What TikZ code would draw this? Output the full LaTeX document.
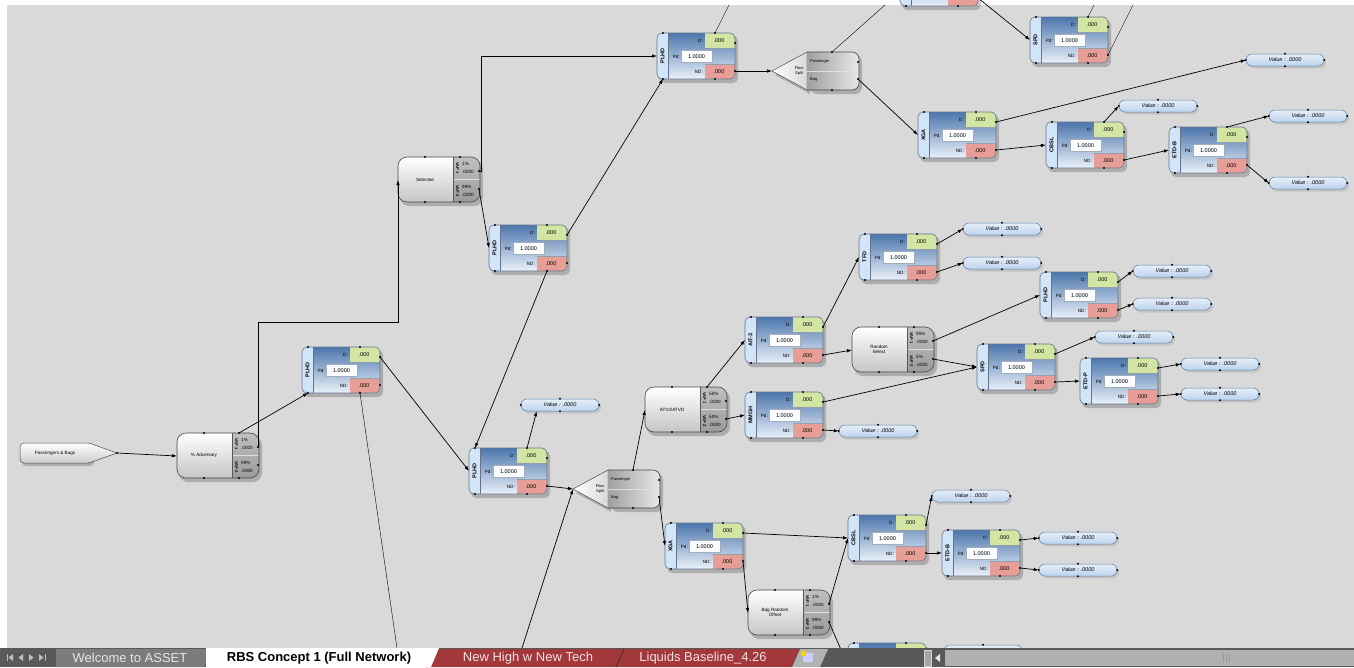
\documentclass[tikz,border=0pt]{standalone}
\usepackage{fontspec}
\setmainfont{Liberation Sans}
\usetikzlibrary{shapes.misc,arrows.meta,shadows}

\definecolor{canvas}{HTML}{D9D9D9}
\definecolor{detdark}{HTML}{4C76AC}
\definecolor{detpale}{HTML}{EAF1FA}
\definecolor{strip}{HTML}{D2E5F8}
\definecolor{dgreen}{HTML}{D3E5A2}
\definecolor{ndred}{HTML}{E79E97}
\definecolor{edge}{HTML}{66768A}
\definecolor{valtop}{HTML}{E6EFF9}
\definecolor{valfill}{HTML}{BCD3EC}
\definecolor{valedge}{HTML}{5D7EA6}
\definecolor{tabred}{HTML}{A3383B}
\definecolor{tabgray}{HTML}{7C7C7C}
\definecolor{barbg}{HTML}{595959}

\tikzset{
  lbl/.style={inner sep=0pt,font=\fontsize{4.6}{5}\selectfont},
  num/.style={inner sep=0pt,font=\fontsize{5.5}{6}\selectfont},
  link/.style={line width=.7pt,-{Latex[length=5pt,width=3.5pt]}},
  boxshadow/.style={fill=black,opacity=.2},
  valcap/.style={rounded rectangle,draw=valedge,line width=.5pt,
    top color=valtop,bottom color=valfill,minimum width=78pt,minimum height=12pt,
    inner sep=0pt,font=\fontsize{5.5}{6}\selectfont\itshape,
    drop shadow={opacity=.22,shadow xshift=2pt,shadow yshift=-2.5pt}},
  tabtext/.style={inner sep=0pt,font=\fontsize{13}{14}\selectfont},
}

% detector frame only: name, x, y
\newcommand{\detframe}[3]{%
  \begin{scope}[shift={(#2,#3)}]
    \fill[boxshadow,rounded corners=5pt] (2,3) rectangle (81,50);
    \begin{scope}
      \clip[rounded corners=5pt] (0,0) rectangle (78,46);
      \fill[strip] (0,0) rectangle (11,46);
      \shade[top color=detdark,bottom color=detpale] (11,0) rectangle (78,46);
      \fill[dgreen] (48,0) rectangle (78,15);
      \fill[ndred] (48,31) rectangle (78,46);
      \fill[white!80!detpale] (24,17.5) rectangle (55,29);
      \draw[edge!60,line width=.4pt] (24,17.5) rectangle (55,29);
      \draw[edge!70,line width=.4pt] (48,15) -- (78,15) (48,31) -- (78,31);
      \draw[edge,line width=.5pt] (11,0) -- (11,46);
    \end{scope}
    \node[draw=edge,line width=.6pt,rounded corners=5pt,minimum width=78pt,
      minimum height=46pt,inner sep=0pt] (#1) at (39,23) {};
    \coordinate (#1-tl) at (6,0);
    \coordinate (#1-bl) at (6,46);
    \coordinate (#1-l) at (0,23);
    \coordinate (#1-dt) at (58,0);
    \coordinate (#1-d) at (78,10);
    \coordinate (#1-nd) at (78,38);
    \coordinate (#1-ndb) at (58,46);
    \foreach \p in {tl,bl,dt,d,nd,ndb} {\fill (#1-\p) circle (1.2pt);}
  \end{scope}}

% detector with its read-outs: name, x, y, label
\newcommand{\detector}[4]{%
  \detframe{#1}{#2}{#3}
  \begin{scope}[shift={(#2,#3)}]
    \node[lbl,anchor=east] at (46,8) {D:};
    \node[num] at (62,8) {.000};
    \node[lbl,anchor=east] at (23,23.5) {Pd:};
    \node[num] at (39.5,23.5) {1.0000};
    \node[lbl,anchor=east] at (46,39) {ND:};
    \node[num] at (62,39) {.000};
    \node[inner sep=0pt,font=\fontsize{5.5}{6}\selectfont\bfseries,rotate=90] at (5.5,23) {#4};
  \end{scope}}

% two way split: name, x, y, text, first share, second share
\newcommand{\vapnode}[6]{%
  \begin{scope}[shift={(#2,#3)}]
    \fill[boxshadow,rounded corners=9pt] (2,3) rectangle (85,49);
    \begin{scope}
      \clip[rounded corners=9pt] (0,0) rectangle (82,45);
      \shade[top color=white,bottom color=gray!45] (0,0) rectangle (55,45);
      \shade[top color=gray!50,bottom color=gray!78] (55,0) rectangle (82,45);
      \draw[gray!25,line width=.7pt] (55,22.5) -- (82,22.5);
      \draw[gray!70!black,line width=.4pt] (55,0) -- (55,45);
    \end{scope}
    \node[draw=gray!55!black,line width=.6pt,rounded corners=9pt,minimum width=82pt,
      minimum height=45pt,inner sep=0pt] (#1) at (41,22.5) {};
    \node[lbl,align=center] at (27,22.5) {#4};
    \node[inner sep=0pt,font=\fontsize{4}{4}\selectfont\bfseries,rotate=-90] at (59.5,11) {VAP 1};
    \node[inner sep=0pt,font=\fontsize{4}{4}\selectfont\bfseries,rotate=-90] at (59.5,34) {VAP 2};
    \node[lbl,anchor=west] at (64,7) {#5};
    \node[lbl,anchor=west] at (64,15) {.0000};
    \node[lbl,anchor=west] at (64,30) {#6};
    \node[lbl,anchor=west] at (64,38) {.0000};
    \coordinate (#1-t) at (27,0);
    \coordinate (#1-t2) at (62,0);
    \coordinate (#1-b) at (27,45);
    \coordinate (#1-b2) at (62,45);
    \coordinate (#1-l) at (0,23);
    \coordinate (#1-r1) at (81,14);
    \coordinate (#1-r2) at (81,32);
    \foreach \p in {t,t2,b,b2,r1,r2} {\fill (#1-\p) circle (1.2pt);}
  \end{scope}}

% passenger / bag flow split: name, x, y of the box
\newcommand{\flowsplit}[3]{%
  \begin{scope}[shift={(#2,#3)}]
    \fill[boxshadow] (-32,23) -- (3,4) -- (3,42) -- cycle;
    \fill[boxshadow,rounded corners=7pt] (3,3) rectangle (55,42);
    \shadedraw[left color=white,right color=gray!30,draw=gray!60!black,line width=.5pt]
      (-35,19) -- (0,0) -- (0,38) -- cycle;
    \begin{scope}
      \clip[rounded corners=7pt] (-10,0) rectangle (52,38);
      \shade[left color=gray!75,right color=gray!18] (0,0) rectangle (52,38);
      \draw[gray!25,line width=.7pt] (0,19) -- (52,19);
    \end{scope}
    \draw[gray!55!black,line width=.6pt,rounded corners=7pt] (0,0) -- (52,0) -- (52,38) -- (0,38);
    \node[minimum width=52pt,minimum height=38pt,inner sep=0pt] (#1) at (26,19) {};
    \node[inner sep=0pt,font=\fontsize{4}{4}\selectfont,anchor=west] at (3,10) {Passenger};
    \node[inner sep=0pt,font=\fontsize{4}{4}\selectfont,anchor=west] at (3,28) {Bag};
    \node[inner sep=0pt,font=\fontsize{4}{4.5}\selectfont,align=center] at (-8,19) {Flow\\Split};
    \coordinate (#1-tip) at (-35,19);
    \coordinate (#1-t) at (25,0);
    \coordinate (#1-b) at (25,38);
    \coordinate (#1-r1) at (51,10);
    \coordinate (#1-r2) at (51,27);
    \foreach \p in {t,b,r1,r2} {\fill (#1-\p) circle (1.2pt);}
  \end{scope}}

% value read-out: name, x, y, text
\newcommand{\valnode}[4]{%
  \node[valcap] (#1) at (#2,#3) {#4};
  \foreach \a in {north,south,west,east} {\fill (#1.\a) circle (1.2pt);}}

\begin{document}
\begin{tikzpicture}[x=1pt,y=-1pt]
  \useasboundingbox (0,0) rectangle (1354,667);
  \fill[white] (0,0) rectangle (1354,667);
  \fill[canvas] (7,5) rectangle (1354,648);

  \begin{scope}
    \clip (7,0) rectangle (1354,648);

    % source
    \fill[boxshadow,rounded corners=4pt] (22,446) rectangle (94,466);
    \shadedraw[top color=white,bottom color=gray!40,draw=gray!60!black,line width=.5pt,
      rounded corners=4pt] (20,443) rectangle (92,463);
    \shade[top color=white,bottom color=gray!40] (89,443) -- (117,453) -- (89,463) -- cycle;
    \draw[gray!60!black,line width=.5pt] (89,443) -- (117,453) -- (89,463);
    \node[lbl] (src) at (55,453) {Passengers \& Bags};
    \coordinate (src-tip) at (117,453);
    \fill (src-tip) circle (1.2pt);

    % splits
    \vapnode{adv}{177}{433}{\% Adversary}{1\%}{99\%}
    \vapnode{sel}{398}{157}{Selectee}{1\%}{99\%}
    \vapnode{atv}{645}{387}{ATV3/ATVD}{50\%}{50\%}
    \vapnode{rsel}{852}{327}{Random\\Select}{95\%}{5\%}
    \vapnode{bagr}{748}{590}{Bag Random\\Offset}{1\%}{99\%}
    \flowsplit{fsT}{807}{52}
    \flowsplit{fsB}{608}{470}

    % detectors
    \detector{plhdA}{302}{347}{PLHD}
    \detector{plhdB}{489}{225}{PLHD}
    \detector{plhdC}{657}{33}{PLHD}
    \detector{plhdD}{469}{448}{PLHD}
    \detector{xgaT}{918}{112}{XGA}
    \detector{cbslT}{1046}{122}{CBSL}
    \detector{etdbT}{1169}{127}{ETD-B}
    \detector{spdT}{1030}{17}{SPD}
    \detframe{topcut}{900}{-40}
    \detector{tfd}{859}{234}{TFD}
    \detector{plhdE}{1040}{272}{PLHD}
    \detector{spdM}{977}{344}{SPD}
    \detector{etdp}{1080}{358}{ETD-P}
    \detector{ait}{745}{317}{AIT-3}
    \detector{mmgh}{745}{392}{MMGH}
    \detector{xgaB}{665}{523}{XGA}
    \detector{cbslB}{848}{515}{CBSL}
    \detector{etdbB}{942}{530}{ETD-B}
    \detframe{botcut}{848}{643}

    % read-outs
    \valnode{va}{1285}{60}{Value : .0000}
    \valnode{vb}{1158}{106}{Value : .0000}
    \valnode{vc}{1308}{116}{Value : .0000}
    \valnode{vd}{1308}{183}{Value : .0000}
    \valnode{ve}{1002}{229}{Value : .0000}
    \valnode{vf}{1002}{263}{Value : .0000}
    \valnode{vg}{1172}{271}{Value : .0000}
    \valnode{vh}{1172}{304}{Value : .0000}
    \valnode{vi}{1134}{337}{Value : .0000}
    \valnode{vj}{1220}{364}{Value : .0000}
    \valnode{vk}{1220}{394}{Value : .0000}
    \valnode{vl}{878}{431}{Value : .0000}
    \valnode{vm}{560}{405}{Value : .0000}
    \valnode{vn}{971}{496}{Value : .0000}
    \valnode{vo}{1078}{538}{Value : .0000}
    \valnode{vp}{1078}{570}{Value : .0000}
    \valnode{vq}{983}{651}{}

    % ends leaving the sheet
    \coordinate (offA) at (729,5);
    \coordinate (offB) at (885,5);
    \coordinate (offC) at (1133,5);
    \coordinate (offD) at (1094,5);
    \coordinate (offE) at (397,648);
    \coordinate (offF) at (522,648);

    % connections
    \draw[link] (src-tip) -- (adv-l);
    \draw[link] (adv-t2) -- (plhdA-bl);
    \draw[link] (adv-r1) -- ++(0,-125) -| (sel-l);
    \draw[link] (plhdA-d) -- (plhdD-l);
    \draw (plhdA-ndb) -- (offE);
    \draw[link] (offF) -- (fsB-tip);
    \draw[link] (plhdD-nd) -- (fsB-tip);
    \draw[link] (plhdD-dt) -- (vm.195);
    \draw[link] (plhdB-ndb) -- (plhdD-tl);
    \draw[link] (plhdB-d) -- (plhdC-bl);
    \draw[link] (sel-r2) -- (plhdB-l);
    \draw[link] (sel-r1) -- ++(2,0) |- (plhdC-l);
    \draw (plhdC-dt) -- (offA);
    \draw[link] (plhdC-nd) -- (fsT-tip);
    \draw (fsT-t) -- (offB);
    \draw[link] (fsT-r2) -- (xgaT-l);
    \draw[link] (topcut-nd) -- (spdT-l);
    \draw (spdT-nd) -- (offC);
    \draw (spdT-dt) -- (offD);
    \draw[link] (xgaT-d) -- (va.west);
    \draw[link] (xgaT-nd) -- (cbslT-l);
    \draw[link] (cbslT-dt) -- (vb.west);
    \draw[link] (cbslT-nd) -- (etdbT-l);
    \draw[link] (etdbT-dt) -- (vc.west);
    \draw[link] (etdbT-nd) -- (vd.west);
    \draw[link] (fsB-t) -- (atv-l);
    \draw[link] (fsB-r2) -- (xgaB-l);
    \draw[link] (atv-t2) -- (ait-l);
    \draw[link] (atv-r2) -- (mmgh-l);
    \draw[link] (ait-d) -- (tfd-l);
    \draw[link] (ait-nd) -- (rsel-l);
    \draw[link] (mmgh-d) -- (spdM-l);
    \draw[link] (mmgh-nd) -- (vl.west);
    \draw[link] (rsel-r1) -- (plhdE-l);
    \draw[link] (rsel-r2) -- (spdM-l);
    \draw[link] (tfd-d) -- (ve.west);
    \draw[link] (tfd-nd) -- (vf.west);
    \draw[link] (plhdE-d) -- (vg.west);
    \draw[link] (plhdE-nd) -- (vh.west);
    \draw[link] (spdM-d) -- (vi.west);
    \draw[link] (spdM-nd) -- (etdp-l);
    \draw[link] (etdp-d) -- (vj.west);
    \draw[link] (etdp-nd) -- (vk.west);
    \draw[link] (xgaB-d) -- (cbslB-l);
    \draw[link] (xgaB-nd) -- (bagr-l);
    \draw[link] (bagr-r1) -- (cbslB-l);
    \draw[link] (bagr-r2) -- (botcut-l);
    \draw[link] (cbslB-d) -- (vn.west);
    \draw[link] (cbslB-nd) -- (etdbB-l);
    \draw[link] (etdbB-d) -- (vo.west);
    \draw[link] (etdbB-nd) -- (vp.west);
  \end{scope}

  % sheet tabs
  \fill[barbg] (0,648) rectangle (1354,667);
  \draw[gray!50,line width=.8pt] (7,654) -- (7,661) (45,654) -- (45,661);
  \fill[gray!50] (13,654) -- (8.5,657.5) -- (13,661) -- cycle;
  \fill[gray!50] (23,654) -- (18.5,657.5) -- (23,661) -- cycle;
  \fill[gray!50] (29,654) -- (33.5,657.5) -- (29,661) -- cycle;
  \fill[gray!50] (39,654) -- (43.5,657.5) -- (39,661) -- cycle;
  \fill[tabgray] (56,649) -- (211,649) -- (204,667) -- (56,667) -- cycle;
  \node[tabtext,text=gray!20] (tabWelcome) at (130,658) {Welcome to ASSET};
  \fill[tabred] (432,649) -- (624,649) -- (616,667) -- (425,667) -- cycle;
  \node[tabtext,text=white!85!tabred] (tabHigh) at (528,658) {New High w New Tech};
  \fill[tabred] (624,649) -- (800,649) -- (792,667) -- (616,667) -- cycle;
  \node[tabtext,text=white!85!tabred] (tabLiquids) at (703,658) {Liquids Baseline\_4.26};
  \draw[barbg!50!black,line width=.6pt] (624,649) -- (616,667) (800,649) -- (792,667);
  \fill[white] (206,648) -- (439,648) -- (431,667) -- (206,667) -- cycle;
  \node[tabtext,font=\fontsize{13}{14}\selectfont\bfseries] (tabRBS) at (319,658) {RBS Concept 1 (Full Network)};
  \fill[gray!60] (800,649) -- (828,649) -- (820,667) -- (792,667) -- cycle;
  \fill[white!80!blue] (803,653) rectangle (813,662);
  \fill[yellow!70!orange] (801,651) rectangle (806,656);
  \fill[gray!70] (924,650) rectangle (931,666);
  \draw[gray!35,line width=.5pt] (924,650) rectangle (931,666);
  \fill[gray!20] (940,654) -- (935,658) -- (940,662) -- cycle;
  \fill[gray!62] (945,650) rectangle (1354,666);
  \draw[gray!80,line width=.6pt] (1223,654) -- (1223,662) (1226,654) -- (1226,662) (1229,654) -- (1229,662);
\end{tikzpicture}
\end{document}
